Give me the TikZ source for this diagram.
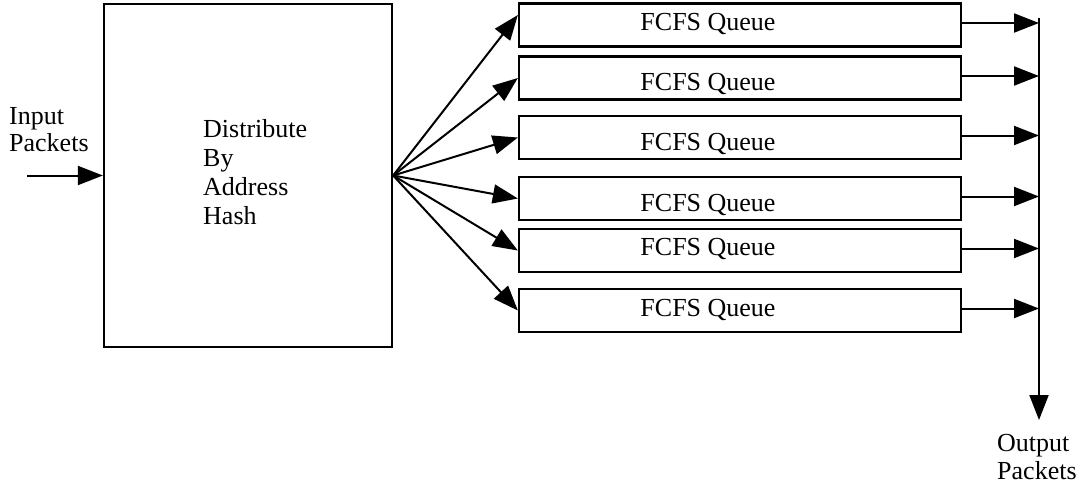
\documentclass[tikz,border=0pt]{standalone}
\usepackage{fontspec}
\setmainfont{Liberation Serif}
\usetikzlibrary{arrows.meta}
\begin{document}
\begin{tikzpicture}[x=1pt,y=-1pt,
  box/.style={draw,line width=2.3pt,inner sep=0pt},
  queuebox/.style={box,minimum width=442pt,minimum height=43pt},
  lbl/.style={inner sep=0pt,font=\fontsize{26}{28}\selectfont},
  flow/.style={line width=2pt,-{Triangle[length=25pt,width=19pt]}}]
\useasboundingbox (0,0) rectangle (1081,485);

% distributor block
\node[box,minimum width=288pt,minimum height=343pt] (dist) at (248,175.5) {};
\node[lbl,align=left,anchor=north west,font=\fontsize{26}{29}\selectfont] (distlbl) at (203,119)
  {Distribute\\By\\Address\\Hash};

% input side
\node[lbl,align=left,anchor=north west,font=\fontsize{26}{27}\selectfont] (inlbl) at (9,107)
  {Input\\Packets};
\coordinate (instart) at (27,175.5);
\draw[flow] (instart) -- (dist.west);

% queues
\foreach \i/\cy/\by in {1/25/30, 2/78/90, 3/137.5/150, 4/198.5/211, 5/250.5/255, 6/310.5/316}{
  \node[queuebox] (q\i) at (740,\cy) {};
  \node[lbl,anchor=base] (ql\i) at (708,\by) {FCFS Queue};
}

% fan-out from the hash block
\draw[flow] (dist.east) -- ([yshift=10pt]q1.west);
\foreach \i in {2,...,6}{
  \draw[flow] (dist.east) -- (q\i.west);
}

% output bus
\coordinate (bustop) at (1039,18);
\coordinate (busend) at (1039,420);
\foreach \i in {1,...,6}{
  \draw[flow] ([yshift=2pt]q\i.east) -- ([yshift=2pt]q\i.east -| bustop);
}
\draw[flow] (bustop) -- (busend);
\node[lbl,align=left,anchor=north west,font=\fontsize{26}{28}\selectfont] (outlbl) at (997,434)
  {Output\\Packets};
\end{tikzpicture}
\end{document}
